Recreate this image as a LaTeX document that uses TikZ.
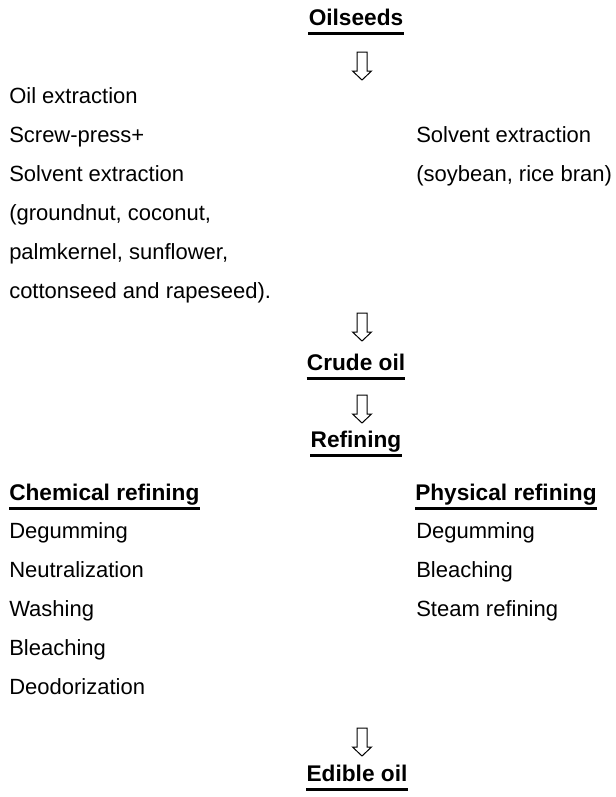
\documentclass[tikz,border=0pt]{standalone}
\usepackage{fontspec}
\setmainfont{Liberation Sans}
\usepackage{tikz}

\begin{document}
\begin{tikzpicture}[x=0.75pt,y=-0.75pt,
        txt/.style={inner sep=0pt,font=\fontsize{16.5}{20}\selectfont},
        head/.style={inner sep=0pt,font=\fontsize{17}{21}\selectfont\bfseries},
        uline/.style={line width=2.4pt},
        downarr/.pic={\draw[line width=0.75pt,line join=miter] (-5,0) -- (5,0) -- (5,19) -- (9.5,19) -- (0,28) -- (-9.5,19) -- (-5,19) -- cycle;}]
        \useasboundingbox (0,0) rectangle (616,797);
        \node[head,anchor=base] (oilseeds) at (356,25) {Oilseeds};
        \pic at (362,52) {downarr};
        \node[txt,anchor=base west] (oilext) at (9,103) {Oil extraction};
        \node[txt,anchor=base west] (screw) at (9,142) {Screw-press+};
        \node[txt,anchor=base west] (solvL) at (9,181) {Solvent extraction};
        \node[txt,anchor=base west] (grnd) at (9,220) {(groundnut, coconut,};
        \node[txt,anchor=base west] (palm) at (9,259) {palmkernel, sunflower,};
        \node[txt,anchor=base west] (cotton) at (9,298) {cottonseed and rapeseed).};
        \node[txt,anchor=base west] (solvR) at (416,142) {Solvent extraction};
        \node[txt,anchor=base west] (soy) at (416,181) {(soybean, rice bran)};
        \pic at (362,313) {downarr};
        \node[head,anchor=base] (crude) at (356,370) {Crude oil};
        \pic at (362,395) {downarr};
        \node[head,anchor=base] (refin) at (356,447) {Refining};
        \node[head,anchor=base west] (chem) at (9,500) {Chemical refining};
        \node[head,anchor=base west] (phys) at (415,500) {Physical refining};
        \node[txt,anchor=base west] (chemA) at (9,538) {Degumming};
        \node[txt,anchor=base west] (chemB) at (9,577) {Neutralization};
        \node[txt,anchor=base west] (chemC) at (9,616) {Washing};
        \node[txt,anchor=base west] (chemD) at (9,655) {Bleaching};
        \node[txt,anchor=base west] (chemE) at (9,694) {Deodorization};
        \node[txt,anchor=base west] (physA) at (416,538) {Degumming};
        \node[txt,anchor=base west] (physB) at (416,577) {Bleaching};
        \node[txt,anchor=base west] (physC) at (416,616) {Steam refining};
        \pic at (362,728) {downarr};
        \node[head,anchor=base] (edible) at (357,781) {Edible oil};
        \foreach \n in {oilseeds,crude,refin,chem,phys,edible}
          \draw[uline] ([yshift=-6.2pt]\n.base west) -- ([yshift=-6.2pt]\n.base east);
\end{tikzpicture}
\end{document}
